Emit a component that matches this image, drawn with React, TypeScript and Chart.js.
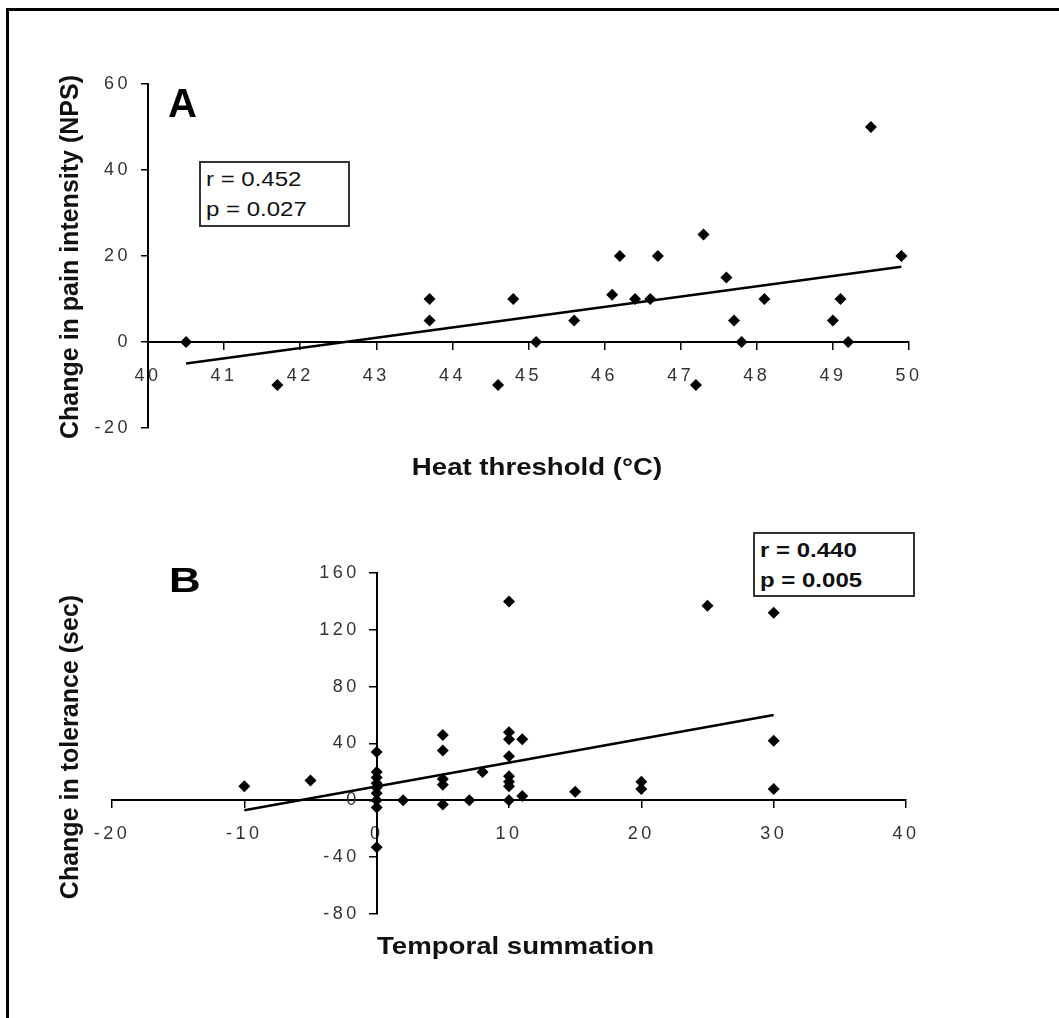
import React, { useEffect, useRef } from 'react';
import { Chart, registerables } from 'chart.js';

Chart.register(...registerables);

// ---- Panel A: heat threshold vs change in pain intensity ----
const heatX = [40.5, 41.7, 43.7, 43.7, 44.6, 44.8, 45.1, 45.6, 46.1, 46.2, 46.4, 46.6, 46.7, 47.2, 47.3, 47.6, 47.7, 47.8, 48.1, 49.0, 49.1, 49.2, 49.5, 49.9];
const heatY = [0, -10, 10, 5, -10, 10, 0, 5, 11, 20, 10, 10, 20, -10, 25, 15, 5, 0, 10, 5, 10, 0, 50, 20];
const heatFitX = [40.5, 49.9];
const heatFitY = [-5, 17.5];
const heatXRange = [40, 50];
const heatXStep = 1;
const heatYRange = [-20, 60];
const heatYStep = 20;
const heatStats = ['r = 0.452', 'p = 0.027'];

// ---- Panel B: temporal summation vs change in tolerance ----
const tsX = [-10, -5, 0, 0, 0, 0, 0, 0, 0, 0, 0, 2, 5, 5, 5, 5, 5, 7, 8, 10, 10, 10, 10, 10, 10, 10, 10, 11, 11, 15, 20, 20, 25, 30, 30, 30];
const tsY = [10, 14, 34, 20, 16, 12, 9, 5, 0, -5, -33, 0, 46, 35, 15, 11, -3, 0, 20, 140, 48, 43, 31, 17, 13, 10, 0, 43, 3, 6, 13, 8, 137, 132, 42, 8];
const tsFitX = [-10, 30];
const tsFitY = [-7, 60];
const tsXRange = [-20, 40];
const tsXStep = 10;
const tsYRange = [-80, 160];
const tsYStep = 40;
const tsStats = ['r = 0.440', 'p = 0.005'];

const FONT = '"Liberation Sans", Arial, Helvetica, sans-serif';

const spacingPlugin = (px: number) => ({
  id: 'letterSpacing' + px,
  beforeDraw(chart: any) {
    chart.ctx.letterSpacing = px + 'px';
  },
});

// Chart.js draws labels of a value-positioned y axis flush with the axis line;
// push them out past the tick marks like a normal left axis.
const yLabelGapPlugin = (gap: number) => ({
  id: 'yLabelGap',
  beforeDraw(chart: any) {
    const scale = chart.scales.y;
    const items = scale.getLabelItems();
    if ((items as any).__shifted) return;
    items.forEach((it: any) => {
      it.options.translation = [it.options.translation[0] - gap, it.options.translation[1]];
    });
    (items as any).__shifted = true;
  },
});

function axisCommon(tickPad: number) {
  return {
    ticks: { color: '#333', font: { family: FONT, size: 18 }, padding: tickPad, autoSkip: false },
    grid: { drawOnChartArea: false, drawTicks: true, tickLength: 7, color: '#000', lineWidth: 1.5 },
    border: { display: true, color: '#000', width: 2 },
  };
}

function makeDatasets(xs: number[], ys: number[], fx: number[], fy: number[]) {
  return [
    {
      type: 'scatter' as const,
      data: xs.map((x, i) => ({ x, y: ys[i] })),
      pointStyle: 'rectRot',
      pointRadius: 6,
      backgroundColor: '#000',
      borderColor: '#000',
      borderWidth: 0,
    },
    {
      type: 'line' as const,
      data: fx.map((x, i) => ({ x, y: fy[i] })),
      borderColor: '#000',
      borderWidth: 2.5,
      pointRadius: 0,
      fill: false,
      showLine: true,
      tension: 0,
    },
  ];
}

function ChartA() {
  const ref = useRef<HTMLCanvasElement>(null);
  useEffect(() => {
    const cx = axisCommon(16);
    const cy = axisCommon(10);
    const chart = new Chart(ref.current as HTMLCanvasElement, {
      type: 'scatter',
      data: { datasets: makeDatasets(heatX, heatY, heatFitX, heatFitY) as any },
      options: {
        responsive: false,
        animation: false,
        layout: { padding: { left: 0, top: 84, right: 150, bottom: 52 } },
        plugins: { legend: { display: false }, tooltip: { enabled: false } },
        scales: {
          x: {
            type: 'linear',
            min: heatXRange[0],
            max: heatXRange[1],
            position: { y: 0 } as any,
            ...cx,
            ticks: { ...cx.ticks, stepSize: heatXStep },
          },
          y: {
            type: 'linear',
            min: heatYRange[0],
            max: heatYRange[1],
            position: 'left',
            afterFit: (s: any) => {
              s.width = 148;
            },
            ...cy,
            ticks: { ...cy.ticks, stepSize: heatYStep },
          },
        } as any,
      },
      plugins: [spacingPlugin(3.5)],
    });
    return () => chart.destroy();
  }, []);
  return <canvas ref={ref} width={1059} height={480} style={{ position: 'absolute', left: 0, top: 0, width: 1059, height: 480 }} />;
}

function ChartB() {
  const ref = useRef<HTMLCanvasElement>(null);
  useEffect(() => {
    const cx = axisCommon(16);
    const cy = axisCommon(10);
    const chart = new Chart(ref.current as HTMLCanvasElement, {
      type: 'scatter',
      data: { datasets: makeDatasets(tsX, tsY, tsFitX, tsFitY) as any },
      options: {
        responsive: false,
        animation: false,
        layout: { padding: { left: 112, top: 93, right: 153, bottom: 104 } },
        plugins: { legend: { display: false }, tooltip: { enabled: false } },
        scales: {
          x: {
            type: 'linear',
            min: tsXRange[0],
            max: tsXRange[1],
            position: { y: 0 } as any,
            ...cx,
            ticks: { ...cx.ticks, stepSize: tsXStep },
          },
          y: {
            type: 'linear',
            min: tsYRange[0],
            max: tsYRange[1],
            position: { x: 0 } as any,
            ...cy,
            ticks: { ...cy.ticks, stepSize: tsYStep },
          },
        } as any,
      },
      plugins: [spacingPlugin(3.5), yLabelGapPlugin(17)],
    });
    return () => chart.destroy();
  }, []);
  return <canvas ref={ref} width={1059} height={538} style={{ position: 'absolute', left: 0, top: 480, width: 1059, height: 538 }} />;
}

function StatBox({ left, top, width, height, lines, bold }: any) {
  return (
    <div
      style={{
        position: 'absolute',
        left,
        top,
        width,
        height,
        border: '2px solid #333',
        boxSizing: 'border-box',
        background: '#fff',
      }}
    >
      {lines.map((t: string, i: number) => (
        <div
          key={i}
          style={{
            position: 'absolute',
            left: 5,
            top: 6 + i * 30,
            fontSize: 20,
            lineHeight: '20px',
            fontWeight: bold ? 700 : 400,
            whiteSpace: 'nowrap',
            transform: 'scaleX(1.2)',
            transformOrigin: 'left center',
            color: '#111',
          }}
        >
          {t}
        </div>
      ))}
    </div>
  );
}

function VTitle({ cx, cy, text }: any) {
  return (
    <div
      style={{
        position: 'absolute',
        left: cx,
        top: cy,
        transform: 'translate(-50%, -50%) rotate(-90deg)',
        fontSize: 25,
        lineHeight: '25px',
        fontWeight: 700,
        whiteSpace: 'nowrap',
        color: '#111',
      }}
    >
      {text}
    </div>
  );
}

export default function App() {
  return (
    <div
      style={{
        position: 'absolute',
        left: 0,
        top: 0,
        width: 1059,
        height: 1018,
        overflow: 'hidden',
        background: '#fff',
        fontFamily: FONT,
      }}
    >
      <div
        style={{
          position: 'absolute',
          left: 6,
          top: 8,
          width: 1200,
          height: 1200,
          borderTop: '3px solid #000',
          borderLeft: '3px solid #000',
        }}
      />
      <ChartA />
      <ChartB />
      <div style={{ position: 'absolute', left: 168, top: 83, fontSize: 40, lineHeight: '40px', fontWeight: 700 }}>A</div>
      <div
        style={{
          position: 'absolute',
          left: 169,
          top: 562,
          fontSize: 35,
          lineHeight: '35px',
          fontWeight: 700,
          transform: 'scaleX(1.25)',
          transformOrigin: 'left center',
        }}
      >
        B
      </div>
      <StatBox left={199} top={161} width={151} height={66} lines={heatStats} />
      <StatBox left={753} top={532} width={162} height={65} lines={tsStats} bold />
      <VTitle cx={69} cy={257} text="Change in pain intensity (NPS)" />
      <VTitle cx={69} cy={747} text="Change in tolerance (sec)" />
      <div
        style={{
          position: 'absolute',
          left: 537,
          top: 455,
          fontSize: 24,
          lineHeight: '24px',
          fontWeight: 700,
          whiteSpace: 'nowrap',
          transform: 'translateX(-50%) scaleX(1.15)',
          color: '#111',
        }}
      >
        Heat threshold (°C)
      </div>
      <div
        style={{
          position: 'absolute',
          left: 377,
          top: 934,
          fontSize: 24,
          lineHeight: '24px',
          fontWeight: 700,
          whiteSpace: 'nowrap',
          transform: 'scaleX(1.15)',
          transformOrigin: 'left center',
          color: '#111',
        }}
      >
        Temporal summation
      </div>
    </div>
  );
}
